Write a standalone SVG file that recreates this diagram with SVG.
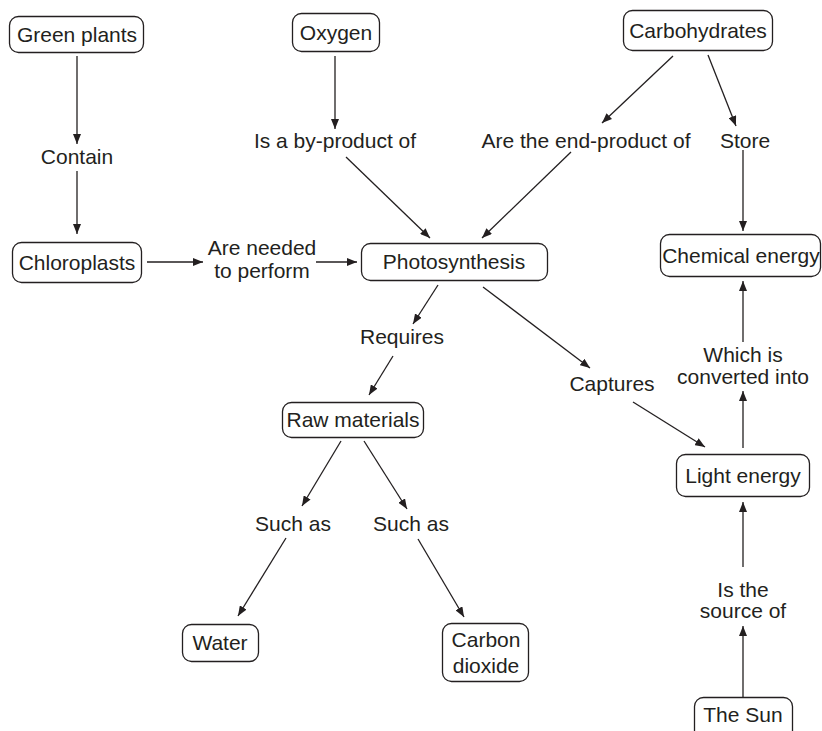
<svg xmlns="http://www.w3.org/2000/svg" width="822" height="731" viewBox="0 0 822 731">
<defs>
<marker id="ah" viewBox="0 0 10 8" refX="10" refY="4" markerWidth="10" markerHeight="8" markerUnits="userSpaceOnUse" orient="auto">
<path d="M0,0 L10,4 L0,8 z" fill="#231f20"/>
</marker>
<style>
text{font-family:"Liberation Sans",Arial,sans-serif;font-size:21px;fill:#231f20;text-anchor:middle}
.box{fill:#fff;stroke:#231f20;stroke-width:1.3}
.c line{stroke:#231f20;stroke-width:1.3;marker-end:url(#ah)}
</style>
</defs>
<rect width="822" height="731" fill="#fff"/>
<g class="c" id="connectors">
<line x1="77" y1="56" x2="77" y2="144"/>
<line x1="77" y1="171" x2="77" y2="234"/>
<line x1="147" y1="262" x2="203" y2="262"/>
<line x1="316" y1="262" x2="357" y2="262"/>
<line x1="335" y1="56" x2="335" y2="129"/>
<line x1="346" y1="157" x2="430" y2="238"/>
<line x1="673" y1="56" x2="602" y2="123"/>
<line x1="571" y1="152" x2="482" y2="238"/>
<line x1="708" y1="55" x2="736" y2="126"/>
<line x1="743" y1="150" x2="743" y2="231"/>
<line x1="743" y1="342" x2="743" y2="281"/>
<line x1="743" y1="448" x2="743" y2="391"/>
<line x1="743" y1="567" x2="743" y2="502"/>
<line x1="743" y1="697" x2="743" y2="626"/>
<line x1="483" y1="287" x2="590" y2="368"/>
<line x1="633" y1="402" x2="705" y2="447"/>
<line x1="438" y1="285" x2="413" y2="324"/>
<line x1="393" y1="356" x2="369" y2="395"/>
<line x1="341" y1="441" x2="302" y2="506"/>
<line x1="364" y1="441" x2="407" y2="509"/>
<line x1="286" y1="538" x2="238" y2="616"/>
<line x1="418" y1="539" x2="464" y2="617"/>
</g>
<g id="green-plants"><rect class="box" x="9.5" y="16.5" width="134" height="36" rx="9"/><text x="77" y="42">Green plants</text></g>
<g id="oxygen"><rect class="box" x="292.5" y="13.5" width="87" height="38" rx="9"/><text x="336" y="40">Oxygen</text></g>
<g id="carbohydrates"><rect class="box" x="623.5" y="10.5" width="149" height="40" rx="9"/><text x="698" y="38">Carbohydrates</text></g>
<g id="chloroplasts"><rect class="box" x="12.5" y="242.5" width="129" height="40" rx="9"/><text x="77" y="270">Chloroplasts</text></g>
<g id="photosynthesis"><rect class="box" x="361.5" y="243.5" width="186" height="37" rx="9"/><text x="454" y="269">Photosynthesis</text></g>
<g id="chemical-energy"><rect class="box" x="660.5" y="234.5" width="160" height="42" rx="9"/><text x="741" y="263">Chemical energy</text></g>
<g id="raw-materials"><rect class="box" x="282.5" y="402.5" width="141" height="35" rx="9"/><text x="353" y="427">Raw materials</text></g>
<g id="light-energy"><rect class="box" x="676.5" y="454.5" width="133" height="42" rx="9"/><text x="743" y="483">Light energy</text></g>
<g id="water"><rect class="box" x="182.5" y="624.5" width="76" height="37" rx="9"/><text x="220" y="650">Water</text></g>
<g id="carbon-dioxide"><rect class="box" x="442.5" y="623.5" width="86" height="58" rx="9"/><text x="486" y="647">Carbon</text><text x="486" y="673">dioxide</text></g>
<g id="the-sun"><rect class="box" x="694.5" y="697.5" width="98" height="44" rx="9"/><text x="743" y="722">The Sun</text></g>
<g id="labels">
<text x="77" y="164">Contain</text>
<text x="262" y="255">Are needed</text>
<text x="262" y="278">to perform</text>
<text x="335" y="148">Is a by-product of</text>
<text x="586" y="148">Are the end-product of</text>
<text x="745" y="148">Store</text>
<text x="743" y="362">Which is</text>
<text x="743" y="384">converted into</text>
<text x="612" y="391">Captures</text>
<text x="402" y="344">Requires</text>
<text x="293" y="531">Such as</text>
<text x="411" y="531">Such as</text>
<text x="743" y="597">Is the</text>
<text x="743" y="618">source of</text>
</g>
</svg>
